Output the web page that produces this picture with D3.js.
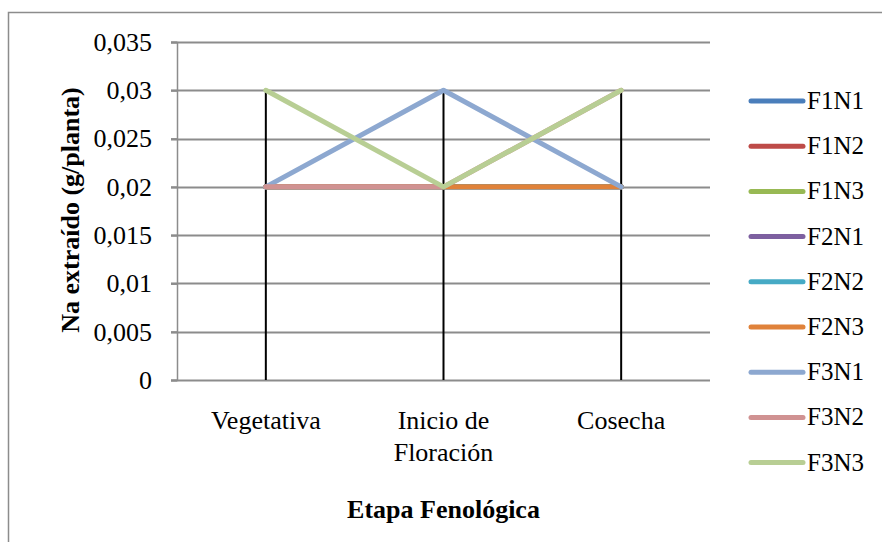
<!DOCTYPE html>
<html>
<head>
<meta charset="utf-8">
<script src="https://cdn.jsdelivr.net/npm/d3@7"></script>
<style>
  html, body { margin: 0; padding: 0; background: #fff; }
  svg { display: block; font-family: "Liberation Serif", "Times New Roman", serif; }
</style>
</head>
<body>
<div id="chart"></div>
<script>
const categories = ["Vegetativa", "Inicio de\nFloración", "Cosecha"];
const seriesNames = ["F1N1", "F1N2", "F1N3", "F2N1", "F2N2", "F2N3", "F3N1", "F3N2", "F3N3"];
const seriesValues = [
  [0.02, 0.02, 0.02],
  [0.02, 0.02, 0.02],
  [0.02, 0.02, 0.02],
  [0.02, 0.02, 0.02],
  [0.02, 0.02, 0.02],
  [0.02, 0.02, 0.02],
  [0.02, 0.03, 0.02],
  [0.02, 0.02, 0.03],
  [0.03, 0.02, 0.03],
];
const yTicks = [0, 0.005, 0.01, 0.015, 0.02, 0.025, 0.03, 0.035];
const colors = ["#4A7EBB", "#BE4B48", "#98B954", "#7D60A0", "#46AAC5", "#E0823A", "#8DA8D0", "#D09292", "#B8CE94"];

const W = 882, H = 542;
const plot = { left: 177, right: 710, top: 42, bottom: 380 };
const FONT = "Liberation Serif, Times New Roman, serif";

const svg = d3.select("#chart").append("svg")
  .attr("width", W).attr("height", H);

// outer frame
svg.append("rect")
  .attr("x", 8.5).attr("y", 12.5)
  .attr("width", W).attr("height", H)
  .attr("fill", "none").attr("stroke", "#8c8c8c").attr("stroke-width", 1.5);

const x = d3.scalePoint()
  .domain(d3.range(categories.length))
  .range([plot.left, plot.right])
  .padding(0.5);

const y = d3.scaleLinear()
  .domain([0, 0.035])
  .range([plot.bottom, plot.top]);

const fmt = v => (v === 0 ? "0" : d3.format(".3~f")(v).replace(".", ","));

// gridlines
svg.append("g")
  .selectAll("line")
  .data(yTicks.filter(d => d > 0))
  .join("line")
  .attr("x1", plot.left - 6).attr("x2", plot.right)
  .attr("y1", d => Math.round(y(d)) + 0.5).attr("y2", d => Math.round(y(d)) + 0.5)
  .attr("stroke", "#8c8c8c").attr("stroke-width", 2);

// y axis
const yAxis = svg.append("g")
  .attr("transform", `translate(${plot.left},0)`)
  .call(d3.axisLeft(y).tickValues(yTicks).tickFormat(fmt).tickSize(6).tickPadding(19));
yAxis.select(".domain").attr("stroke", "#8c8c8c").attr("stroke-width", 1.5);
yAxis.selectAll(".tick line").attr("stroke", "#8c8c8c").attr("stroke-width", 2);
yAxis.selectAll(".tick text")
  .attr("font-family", FONT)
  .attr("font-size", 26).attr("fill", "#000");

// x axis baseline
svg.append("line")
  .attr("x1", plot.left - 6).attr("x2", plot.right)
  .attr("y1", y(0) + 0.5).attr("y2", y(0) + 0.5)
  .attr("stroke", "#8c8c8c").attr("stroke-width", 2);

// drop lines
svg.append("g")
  .selectAll("line")
  .data(categories.map((c, i) => i))
  .join("line")
  .attr("x1", i => x(i)).attr("x2", i => x(i))
  .attr("y1", i => y(d3.max(seriesValues, s => s[i])))
  .attr("y2", y(0))
  .attr("stroke", "#000").attr("stroke-width", 2);

// series lines
const line = d3.line()
  .x((d, i) => x(i))
  .y(d => y(d));

svg.append("g")
  .selectAll("path")
  .data(seriesValues)
  .join("path")
  .attr("d", d => line(d))
  .attr("fill", "none")
  .attr("stroke", (d, i) => colors[i])
  .attr("stroke-width", 5)
  .attr("stroke-linejoin", "round")
  .attr("stroke-linecap", "round");

// category labels
const catLabels = svg.append("g")
  .selectAll("text")
  .data(categories)
  .join("text")
  .attr("x", (d, i) => x(i))
  .attr("y", 429)
  .attr("text-anchor", "middle")
  .attr("font-size", 26)
  .attr("fill", "#000");
catLabels.selectAll("tspan")
  .data(d => d.split("\n"))
  .join("tspan")
  .attr("x", function () { return d3.select(this.parentNode).attr("x"); })
  .attr("dy", (d, i) => (i === 0 ? 0 : 32))
  .text(d => d);

// axis titles
svg.append("text")
  .attr("x", x(1)).attr("y", 518)
  .attr("text-anchor", "middle")
  .attr("font-size", 26).attr("font-weight", "bold")
  .text("Etapa Fenológica");

svg.append("text")
  .attr("transform", `translate(79,210) rotate(-90)`)
  .attr("text-anchor", "middle")
  .attr("font-size", 26).attr("font-weight", "bold")
  .text("Na extraído (g/planta)");

// legend
const legend = svg.append("g")
  .selectAll("g")
  .data(seriesNames)
  .join("g")
  .attr("transform", (d, i) => `translate(749,${101 + i * 45.2})`);
legend.append("line")
  .attr("x1", 2).attr("x2", 54)
  .attr("stroke", (d, i) => colors[i])
  .attr("stroke-width", 5)
  .attr("stroke-linecap", "round");
legend.append("text")
  .attr("x", 58).attr("y", 8)
  .attr("font-size", 25)
  .attr("fill", "#000")
  .text(d => d);
</script>
</body>
</html>
